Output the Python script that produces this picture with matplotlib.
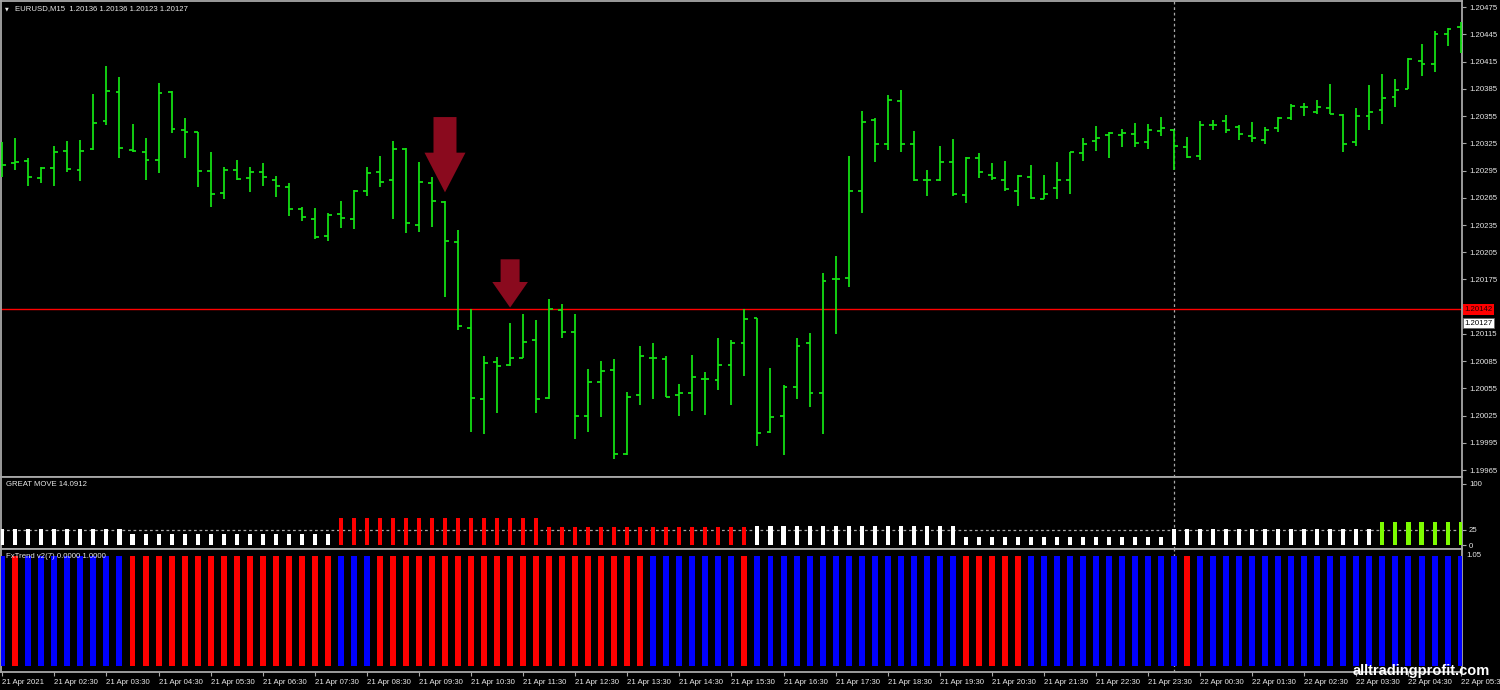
import matplotlib
matplotlib.use('Agg')
import matplotlib.pyplot as plt
from matplotlib.collections import LineCollection
from matplotlib.patches import Polygon
import matplotlib.transforms as mtransforms
import numpy as np

plt.rcParams['font.family'] = ['Liberation Sans', 'DejaVu Sans']

# ---------------- data ----------------
symbol_title = "EURUSD,M15  1.20136 1.20136 1.20123 1.20127"
opens = [1.20307, 1.20303, 1.20306, 1.20287, 1.20298, 1.20317, 1.20296, 1.20319, 1.20350, 1.20382,
         1.20318, 1.20316, 1.20307, 1.20382, 1.20340, 1.20337, 1.20295, 1.20270, 1.20296, 1.20287,
         1.20293, 1.20285, 1.20277, 1.20253, 1.20242, 1.20223, 1.20247, 1.20242, 1.20272, 1.20293,
         1.20285, 1.20319, 1.20235, 1.20281, 1.20260, 1.20216, 1.20122, 1.20043, 1.20084, 1.20081,
         1.20089, 1.20108, 1.20044, 1.20141, 1.20117, 1.20025, 1.20062, 1.20075, 1.19983, 1.20048,
         1.20089, 1.20087, 1.20048, 1.20050, 1.20065, 1.20064, 1.20081, 1.20105, 1.20132, 1.20007,
         1.20024, 1.20057, 1.20105, 1.20050, 1.20175, 1.20177, 1.20272, 1.20351, 1.20324, 1.20372,
         1.20324, 1.20285, 1.20285, 1.20304, 1.20268, 1.20309, 1.20290, 1.20285, 1.20272, 1.20288,
         1.20264, 1.20276, 1.20285, 1.20314, 1.20328, 1.20334, 1.20334, 1.20335, 1.20326, 1.20339,
         1.20340, 1.20321, 1.20311, 1.20345, 1.20350, 1.20343, 1.20333, 1.20329, 1.20342, 1.20353,
         1.20365, 1.20360, 1.20364, 1.20356, 1.20326, 1.20355, 1.20362, 1.20376, 1.20385, 1.20416,
         1.20413, 1.20445, 1.20453]
highs = [1.20327, 1.20331, 1.20309, 1.20299, 1.20322, 1.20328, 1.20329, 1.20379, 1.20410, 1.20398,
         1.20346, 1.20331, 1.20392, 1.20383, 1.20353, 1.20338, 1.20315, 1.20299, 1.20307, 1.20299,
         1.20303, 1.20289, 1.20281, 1.20255, 1.20254, 1.20248, 1.20261, 1.20274, 1.20299, 1.20311,
         1.20328, 1.20320, 1.20305, 1.20288, 1.20261, 1.20230, 1.20143, 1.20091, 1.20090, 1.20127,
         1.20137, 1.20130, 1.20153, 1.20148, 1.20137, 1.20076, 1.20085, 1.20087, 1.20051, 1.20102,
         1.20105, 1.20091, 1.20060, 1.20092, 1.20073, 1.20110, 1.20108, 1.20143, 1.20133, 1.20077,
         1.20059, 1.20111, 1.20116, 1.20182, 1.20201, 1.20311, 1.20361, 1.20353, 1.20378, 1.20384,
         1.20339, 1.20296, 1.20322, 1.20330, 1.20310, 1.20314, 1.20303, 1.20306, 1.20290, 1.20301,
         1.20290, 1.20304, 1.20315, 1.20331, 1.20344, 1.20338, 1.20341, 1.20347, 1.20346, 1.20354,
         1.20340, 1.20332, 1.20350, 1.20351, 1.20356, 1.20345, 1.20348, 1.20343, 1.20354, 1.20368,
         1.20370, 1.20373, 1.20390, 1.20357, 1.20364, 1.20389, 1.20401, 1.20396, 1.20419, 1.20435,
         1.20449, 1.20452, 1.20459]
lows = [1.20288, 1.20296, 1.20278, 1.20281, 1.20278, 1.20293, 1.20284, 1.20318, 1.20345, 1.20309,
        1.20316, 1.20285, 1.20292, 1.20336, 1.20309, 1.20277, 1.20255, 1.20264, 1.20285, 1.20271,
        1.20278, 1.20266, 1.20245, 1.20239, 1.20220, 1.20217, 1.20232, 1.20231, 1.20267, 1.20277,
        1.20242, 1.20226, 1.20227, 1.20233, 1.20156, 1.20119, 1.20007, 1.20005, 1.20028, 1.20080,
        1.20088, 1.20028, 1.20043, 1.20111, 1.19999, 1.20007, 1.20023, 1.19977, 1.19982, 1.20037,
        1.20043, 1.20046, 1.20025, 1.20030, 1.20026, 1.20053, 1.20037, 1.20069, 1.19991, 1.20006,
        1.19982, 1.20043, 1.20034, 1.20005, 1.20115, 1.20167, 1.20248, 1.20305, 1.20318, 1.20315,
        1.20284, 1.20267, 1.20284, 1.20267, 1.20259, 1.20287, 1.20285, 1.20273, 1.20256, 1.20264,
        1.20264, 1.20264, 1.20269, 1.20306, 1.20317, 1.20309, 1.20321, 1.20321, 1.20319, 1.20333,
        1.20296, 1.20309, 1.20307, 1.20340, 1.20336, 1.20329, 1.20327, 1.20324, 1.20337, 1.20351,
        1.20355, 1.20357, 1.20357, 1.20316, 1.20322, 1.20340, 1.20346, 1.20365, 1.20385, 1.20399,
        1.20404, 1.20432, 1.20425]
closes = [1.20301, 1.20305, 1.20288, 1.20298, 1.20316, 1.20297, 1.20317, 1.20347, 1.20383, 1.20320,
          1.20317, 1.20307, 1.20381, 1.20341, 1.20338, 1.20295, 1.20269, 1.20296, 1.20286, 1.20293,
          1.20288, 1.20278, 1.20253, 1.20244, 1.20222, 1.20246, 1.20243, 1.20273, 1.20292, 1.20282,
          1.20319, 1.20237, 1.20282, 1.20261, 1.20217, 1.20124, 1.20044, 1.20083, 1.20080, 1.20089,
          1.20106, 1.20043, 1.20142, 1.20117, 1.20025, 1.20062, 1.20074, 1.19983, 1.20046, 1.20091,
          1.20089, 1.20046, 1.20050, 1.20067, 1.20065, 1.20081, 1.20105, 1.20131, 1.20006, 1.20023,
          1.20057, 1.20102, 1.20050, 1.20173, 1.20176, 1.20272, 1.20349, 1.20324, 1.20373, 1.20324,
          1.20285, 1.20285, 1.20305, 1.20269, 1.20309, 1.20293, 1.20287, 1.20275, 1.20289, 1.20265,
          1.20269, 1.20285, 1.20315, 1.20324, 1.20331, 1.20336, 1.20336, 1.20325, 1.20340, 1.20342,
          1.20322, 1.20310, 1.20345, 1.20345, 1.20340, 1.20335, 1.20331, 1.20340, 1.20353, 1.20366,
          1.20365, 1.20365, 1.20357, 1.20324, 1.20355, 1.20360, 1.20375, 1.20384, 1.20418, 1.20413,
          1.20446, 1.20451, 1.20436]

ask_price = 1.20142
bid_price = 1.20127
separator_bar = 90            # 22 Apr 00:00

great_move_title = "GREAT MOVE 14.0912"
great_move = ([26] * 10 + [19] * 16 + [44] * 16 + [30] * 16 + [31] * 16 + [14] * 16 + [27] * 16 + [38] * 7)
great_move_color = (['w'] * 10 + ['w'] * 16 + ['r'] * 16 + ['r'] * 16 + ['w'] * 16 + ['w'] * 16 + ['w'] * 16 + ['g'] * 7)
great_move_level = 25
great_move_ticks = [0, 25, 100]

fxtrend_title = "FxTrend v2(7) 0.0000 1.0000"
fxtrend_dir = ([1] + [-1] + [1] * 8 + [-1] * 16 + [1] * 3 + [-1] * 21 + [1] * 7 + [-1] + [1] * 16 +
               [-1] * 5 + [1] * 12 + [-1] + [1] * 21)
fxtrend_value = [1.0] * len(fxtrend_dir)

time_labels = ["21 Apr 2021", "21 Apr 02:30", "21 Apr 03:30", "21 Apr 04:30", "21 Apr 05:30",
               "21 Apr 06:30", "21 Apr 07:30", "21 Apr 08:30", "21 Apr 09:30", "21 Apr 10:30",
               "21 Apr 11:30", "21 Apr 12:30", "21 Apr 13:30", "21 Apr 14:30", "21 Apr 15:30",
               "21 Apr 16:30", "21 Apr 17:30", "21 Apr 18:30", "21 Apr 19:30", "21 Apr 20:30",
               "21 Apr 21:30", "21 Apr 22:30", "21 Apr 23:30", "22 Apr 00:30", "22 Apr 01:30",
               "22 Apr 02:30", "22 Apr 03:30", "22 Apr 04:30", "22 Apr 05:30"]

# signal arrows: bar index and price of the tip
arrow_bars = [34, 39]
arrow_tips = [1.20271, 1.20144]

watermark = "alltradingprofit.com"

# ---------------- style ----------------
W, H = 1500, 690
BG = 'black'
GRAY = '#a8a8a8'
GREEN = '#14e614'
TXT = '#e8e8e8'
ARROW = '#8a0a1e'
FS = 5.6

fig = plt.figure(figsize=(W / 100, H / 100), dpi=100, facecolor=BG)


def px_axes(x0, y0, x1, y1):
    return fig.add_axes([x0 / W, 1 - y1 / H, (x1 - x0) / W, (y1 - y0) / H])


ax1 = px_axes(1, 1, 1462, 477)
ax2 = px_axes(1, 477, 1462, 549)
ax3 = px_axes(1, 549, 1462, 672)

n = len(opens)
xs = np.arange(n)
XLIM = (-0.1, 112.11)

for ax in (ax1, ax2, ax3):
    ax.set_facecolor(BG)
    ax.set_xlim(*XLIM)
    for s in ax.spines.values():
        s.set_color(GRAY)
        s.set_linewidth(1.3)
    ax.tick_params(axis='x', bottom=False, labelbottom=False)
    ax.axvline(separator_bar, color=GRAY, lw=0.9, ls=(0, (2.2, 2.2)), zorder=0.5)

# ---------------- main price panel ----------------
ax1.set_ylim(1.199573, 1.204819)
segs = []
tick = 0.3
for i, (o, h, l, c) in enumerate(zip(opens, highs, lows, closes)):
    segs.append([(i, l), (i, h)])
    segs.append([(i - tick, o), (i, o)])
    segs.append([(i, c), (i + tick, c)])
ax1.add_collection(LineCollection(segs, colors=GREEN, linewidths=1.25, capstyle='butt', zorder=3))

ax1.axhline(ask_price, color='#ff0000', lw=1.0, zorder=2)

price_ticks = np.round(np.arange(1.19965, 1.204751, 0.0003), 5)
ax1.yaxis.tick_right()
ax1.set_yticks(price_ticks)
# the label hidden behind the ask-price box is left empty
ax1.set_yticklabels(["" if abs(p - ask_price) < 0.00006 else f"{p:.5f}" for p in price_ticks])
ax1.tick_params(axis='y', colors=GRAY, labelcolor=TXT, length=3, width=0.8, pad=2, labelsize=FS)

# arrows (sizes in pixels)
kx = 1 / 13.02
ky = 1.1022e-5
arrow_sizes = [(11.5, 20.5, 39.7, 75.3), (9.5, 17.8, 25.6, 48.3)]
for b, p, (shw, hhw, hh, th) in zip(arrow_bars, arrow_tips, arrow_sizes):
    verts = [(b, p), (b - hhw * kx, p + hh * ky), (b - shw * kx, p + hh * ky),
             (b - shw * kx, p + th * ky), (b + shw * kx, p + th * ky),
             (b + shw * kx, p + hh * ky), (b + hhw * kx, p + hh * ky)]
    ax1.add_patch(Polygon(verts, closed=True, fc=ARROW, ec='none', zorder=5))

# price labels on the right scale
trans = mtransforms.blended_transform_factory(fig.transFigure, ax1.transData)
ax1.text(1464.5 / W, ask_price, f"{ask_price:.5f}", transform=trans, ha='left', va='center',
         fontsize=FS, color='#200000', clip_on=False, zorder=10,
         bbox=dict(boxstyle='square,pad=0.22', fc='#ff0000', ec='none'))
ax1.text(1464.5 / W, bid_price, f"{bid_price:.5f}", transform=trans, ha='left', va='center',
         fontsize=FS, color='black', clip_on=False, zorder=10,
         bbox=dict(boxstyle='square,pad=0.22', fc='white', ec='#606060', lw=0.5))

fig.text(5 / W, 1 - 8.5 / H, '\u25BC', fontsize=3.5, color=TXT, va='center', ha='left', family='DejaVu Sans')
fig.text(15 / W, 1 - 8.5 / H, symbol_title, fontsize=FS, color=TXT, va='center', ha='left')

# ---------------- GREAT MOVE panel ----------------
cmap = {'w': '#ffffff', 'r': '#ff0000', 'g': '#7cfc00'}
ax2.set_ylim(-6, 111.4)
ax2.bar(xs, great_move, width=0.31, color=[cmap[c] for c in great_move_color], zorder=3)
ax2.axhline(great_move_level, color=GRAY, lw=0.9, ls=(0, (2.2, 2.2)), zorder=1)
ax2.yaxis.tick_right()
ax2.set_yticks(great_move_ticks)
ax2.set_yticklabels([str(t) for t in great_move_ticks])
ax2.tick_params(axis='y', colors=GRAY, labelcolor=TXT, length=3, width=0.8, pad=2, labelsize=FS)
fig.text(6 / W, 1 - 485 / H, great_move_title, fontsize=FS, color=TXT, va='center', ha='left')

# ---------------- FxTrend panel ----------------
ax3.set_ylim(-0.05, 1.06)
ax3.bar(xs, fxtrend_value, width=0.46,
        color=['#0000ff' if d > 0 else '#ff0000' for d in fxtrend_dir], zorder=3)
ax3.set_yticks([])
fig.text(1466 / W, 1 - 555.5 / H, "1.05", fontsize=FS, color=TXT, va='center', ha='left')
fig.text(6 / W, 1 - 557 / H, fxtrend_title, fontsize=FS, color=TXT, va='center', ha='left', zorder=10)

ax3.set_xticks(range(0, n, 4))
ax3.set_xticklabels(time_labels, ha='left')
ax3.tick_params(axis='x', bottom=True, labelbottom=True, colors=GRAY, labelcolor=TXT,
                length=3, width=0.8, pad=2, labelsize=FS)

# watermark
fig.text(1421 / W, 1 - 671 / H, watermark, fontsize=10.5, color='white', fontweight='bold',
         va='center', ha='center', zorder=20)

fig.savefig('out.png', dpi=100, facecolor=BG)
